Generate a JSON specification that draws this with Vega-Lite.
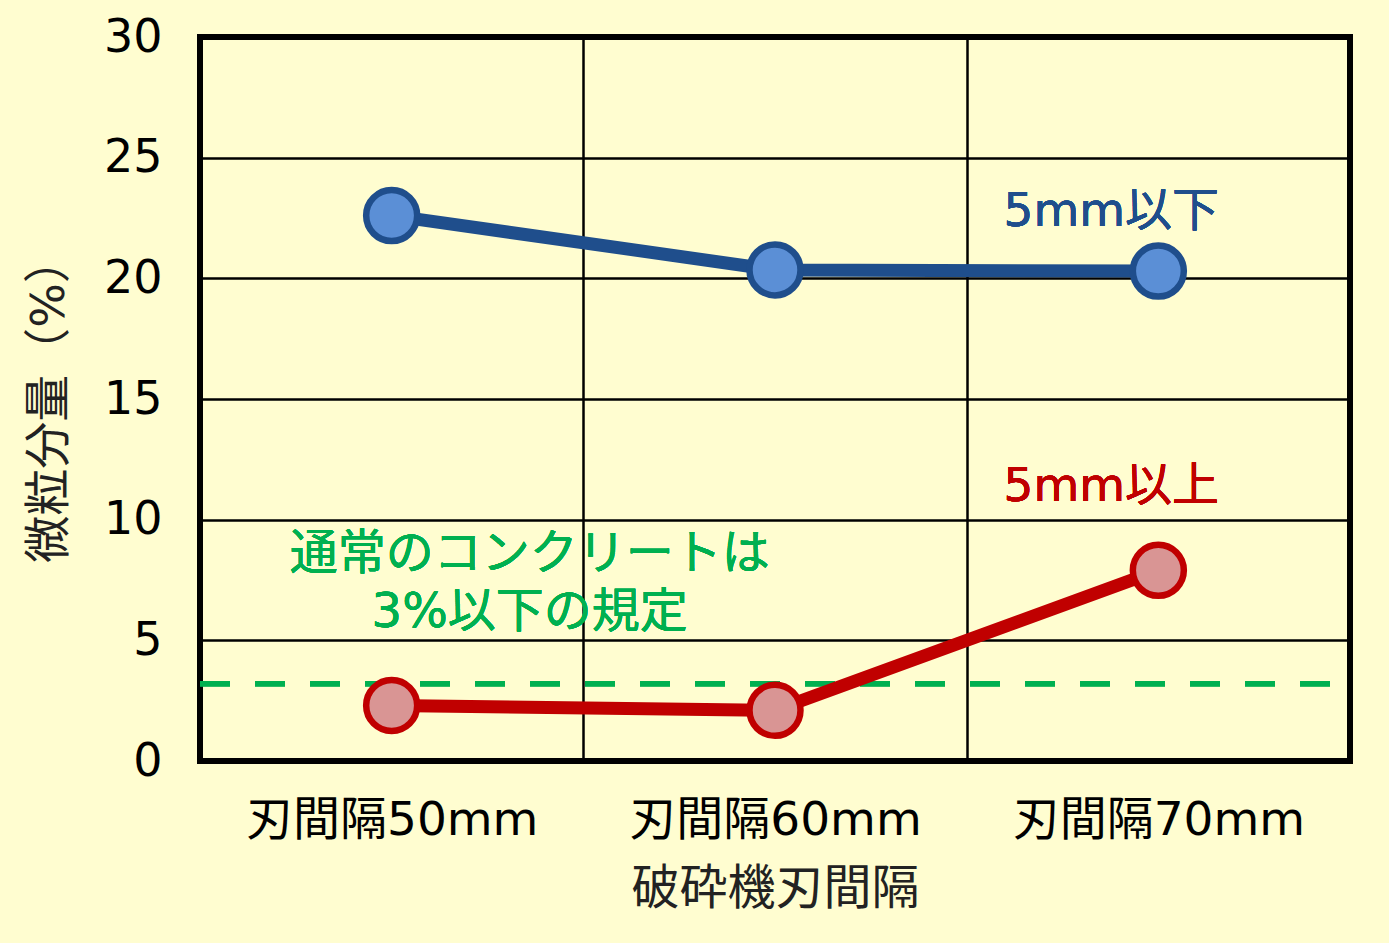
{
  "$schema": "https://vega.github.io/schema/vega-lite/v6.json",
  "autosize": "none",
  "width": 1150,
  "height": 724,
  "padding": {"left": 200, "top": 37, "right": 39, "bottom": 182},
  "background": "#FFFDD0",
  "config": {
    "font": "DejaVu Sans, Noto Sans CJK JP",
    "view": {"stroke": "black", "strokeWidth": 6, "fill": "#FFFDD0"},
    "axis": {"gridColor": "black", "gridWidth": 2.5, "gridOpacity": 1, "ticks": false, "domain": false, "labelColor": "black", "titleColor": "#222222", "titleFontWeight": "normal", "labelLimit": 0}
  },
  "data": {
    "values": [
      {"cat": "刃間隔50mm", "series": "5mm以下", "value": 22.6},
      {"cat": "刃間隔60mm", "series": "5mm以下", "value": 20.35},
      {"cat": "刃間隔70mm", "series": "5mm以下", "value": 20.3},
      {"cat": "刃間隔50mm", "series": "5mm以上", "value": 2.3},
      {"cat": "刃間隔60mm", "series": "5mm以上", "value": 2.1},
      {"cat": "刃間隔70mm", "series": "5mm以上", "value": 7.9}
    ]
  },
  "encoding": {
    "x": {
      "field": "cat", "type": "nominal", "sort": null,
      "scale": {"type": "band", "paddingInner": 0, "paddingOuter": 0},
      "axis": {"title": "破砕機刃間隔", "labelAngle": 0, "labelFontSize": 47, "labelPadding": 36, "titleFontSize": 48, "titlePadding": 22, "grid": true, "tickBand": "extent"}
    },
    "y": {
      "field": "value", "type": "quantitative",
      "scale": {"domain": [0, 30], "nice": false},
      "axis": {"title": "微粒分量（%）", "values": [0, 5, 10, 15, 20, 25, 30], "labelFontSize": 46, "labelPadding": 38, "titleFontSize": 47, "titlePadding": 30, "grid": true}
    }
  },
  "layer": [
    {
      "mark": {"type": "rule", "strokeWidth": 5, "strokeDash": [30, 25], "color": "#00B050"},
      "encoding": {"y": {"datum": 3.2}, "x": {"value": 0}, "x2": {"value": 1150}}
    },
    {
      "mark": {"type": "line", "strokeWidth": 13},
      "encoding": {
        "stroke": {"field": "series", "type": "nominal", "scale": {"domain": ["5mm以下", "5mm以上"], "range": ["#1F4E8C", "#C00000"]}, "legend": null}
      }
    },
    {
      "mark": {"type": "point", "filled": false, "size": 2600, "strokeWidth": 6.5, "opacity": 1},
      "encoding": {
        "stroke": {"field": "series", "type": "nominal", "scale": {"domain": ["5mm以下", "5mm以上"], "range": ["#1F4E8C", "#C00000"]}, "legend": null},
        "fill": {"field": "series", "type": "nominal", "scale": {"domain": ["5mm以下", "5mm以上"], "range": ["#5B8FD6", "#D99594"]}, "legend": null}
      }
    },
    {
      "mark": {"type": "text", "text": "5mm以下", "fontSize": 47, "color": "#1F4E8C", "dx": -47},
      "encoding": {"x": {"datum": "刃間隔70mm"}, "y": {"datum": 22.75}}
    },
    {
      "mark": {"type": "text", "text": "5mm以上", "fontSize": 47, "color": "#C00000", "dx": -47},
      "encoding": {"x": {"datum": "刃間隔70mm"}, "y": {"datum": 11.35}}
    },
    {
      "mark": {"type": "text", "text": "通常のコンクリートは", "fontSize": 48, "color": "#00B050", "dx": 138},
      "encoding": {"x": {"datum": "刃間隔50mm"}, "y": {"datum": 8.55}}
    },
    {
      "mark": {"type": "text", "text": "3%以下の規定", "fontSize": 48, "color": "#00B050", "dx": 138},
      "encoding": {"x": {"datum": "刃間隔50mm"}, "y": {"datum": 6.15}}
    }
  ]
}
